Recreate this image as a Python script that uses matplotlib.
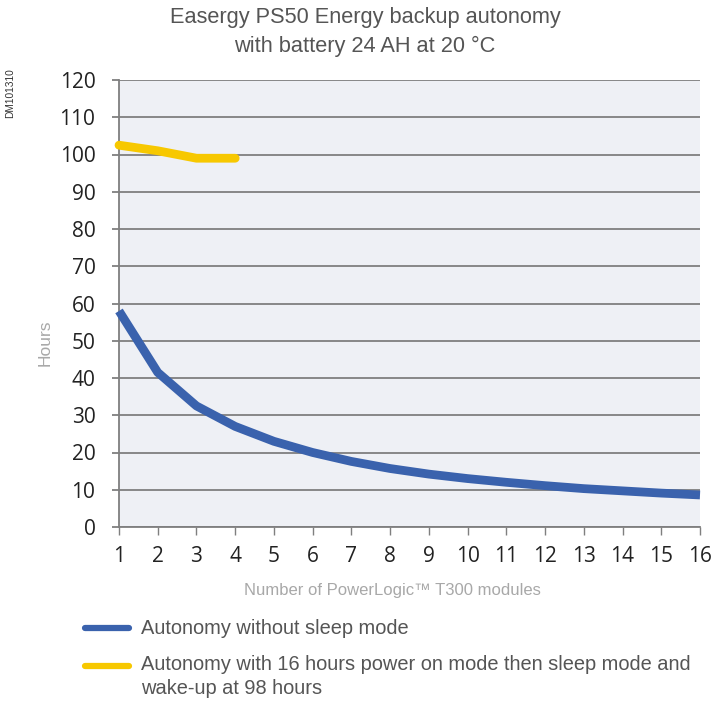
import matplotlib.pyplot as plt
from matplotlib.lines import Line2D

plt.rcParams['font.family'] = ['Liberation Sans', 'DejaVu Sans']

# data
modules = [1, 2, 3, 4, 5, 6, 7, 8, 9, 10, 11, 12, 13, 14, 15, 16]
no_sleep = [58, 41.5, 32.5, 27, 23, 20, 17.6, 15.7, 14.2, 13, 12, 11.1, 10.3, 9.7, 9.1, 8.6]
sleep_modules = [1, 2, 3, 4]
with_sleep = [102.5, 101, 99, 99]
y_ticks = list(range(0, 121, 10))

blue = "#3a62ad"
yellow = "#f7c800"
grid_col = "#7f7f7f"

fig = plt.figure(figsize=(7.11, 7.04), dpi=100)
ax = fig.add_axes([119 / 711, 1 - 527 / 704, (700 - 119) / 711, (527 - 80) / 704])
ax.set_facecolor("#eef0f5")

ax.plot(modules, no_sleep, color=blue, lw=6.3, solid_capstyle="butt", clip_on=False, zorder=3)
ax.plot(sleep_modules, with_sleep, color=yellow, lw=6.3, solid_capstyle="round", clip_on=False, zorder=3)

ax.set_xlim(1, 16)
ax.set_ylim(0, 120)
ax.set_xticks(modules)
ax.set_yticks(y_ticks)
ax.grid(axis="y", color=grid_col, lw=1.3)
ax.set_axisbelow(True)

for s in ["top", "right"]:
    ax.spines[s].set_visible(False)
ax.spines["left"].set_color(grid_col)
ax.spines["bottom"].set_color(grid_col)
ax.spines["left"].set_linewidth(1.3)
ax.spines["bottom"].set_linewidth(1.3)
ax.tick_params(axis="y", length=5, width=1.3, color=grid_col, labelsize=15, pad=12, labelcolor="#222222")
ax.tick_params(axis="x", length=6, width=1.0, color=grid_col, labelsize=15, pad=8, labelcolor="#222222")
for lab in ax.get_xticklabels() + ax.get_yticklabels():
    lab.set_family(["Open Sans", "DejaVu Sans"])

fig.text(392 / 711, 1 - 591 / 704, "Number of PowerLogic™ T300 modules", ha="center", va="center",
         fontsize=12, color="#a8a8a8")
fig.text(45 / 711, 1 - 343 / 704, "Hours", rotation=90, ha="center", va="center",
         fontsize=12.5, color="#a8a8a8")

fig.text(365 / 711, 1 - 32 / 704, "Easergy PS50 Energy backup autonomy\nwith battery 24 AH at 20 °C",
         ha="center", va="center", fontsize=15.7, color="#555555", linespacing=1.5)
fig.text(10 / 711, 1 - 93 / 704, "DM101310", rotation=90, ha="center", va="center",
         fontsize=7.3, color="#333333")

# legend drawn by hand below the chart
fig.add_artist(Line2D([85 / 711, 129 / 711], [1 - 628 / 704] * 2, color=blue, lw=4.5,
                      solid_capstyle="round", transform=fig.transFigure))
fig.text(141 / 711, 1 - 628 / 704, "Autonomy without sleep mode", ha="left", va="center",
         fontsize=14.4, color="#555555")
fig.add_artist(Line2D([85 / 711, 129 / 711], [1 - 666 / 704] * 2, color=yellow, lw=4.5,
                      solid_capstyle="round", transform=fig.transFigure))
fig.text(141 / 711, 1 - 655 / 704, "Autonomy with 16 hours power on mode then sleep mode and\nwake-up at 98 hours",
         ha="left", va="top", fontsize=14.4, color="#555555", linespacing=1.35)

fig.savefig("out.png", dpi=100)
